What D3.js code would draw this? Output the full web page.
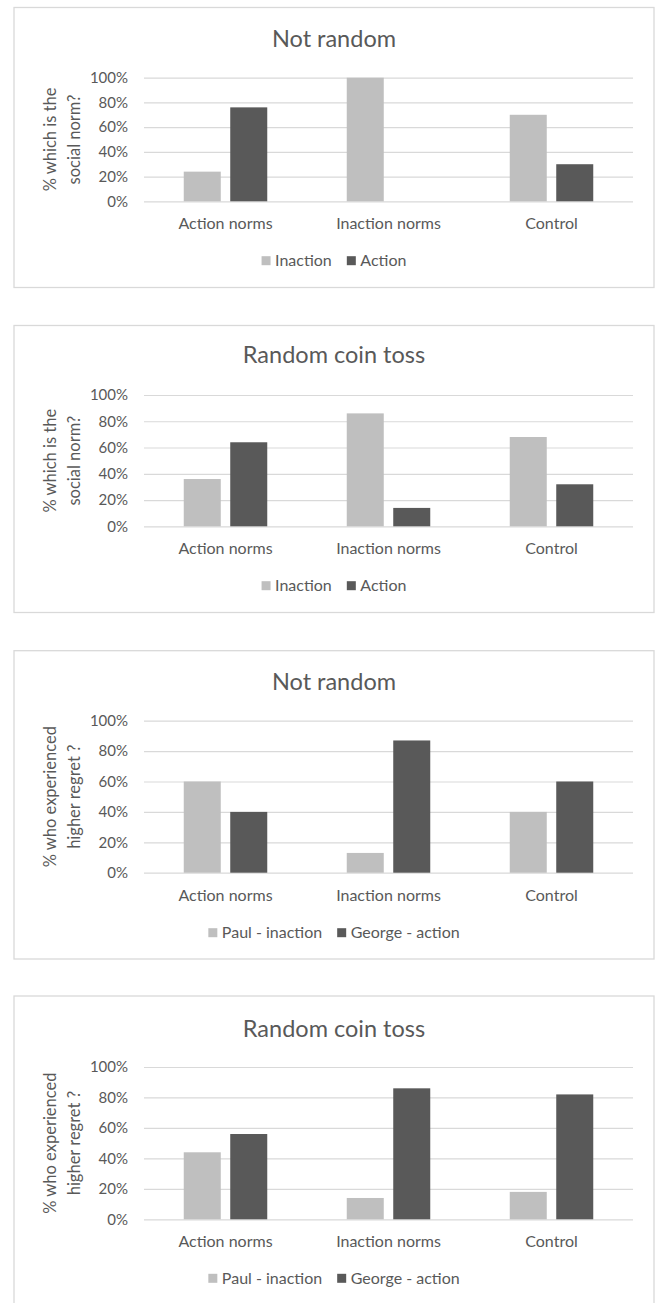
<!DOCTYPE html>
<html>
<head>
<meta charset="utf-8">
<script src="https://cdn.jsdelivr.net/npm/d3@7"></script>
<style>
  body { margin: 0; background: #fff; }
  text { font-family: Lato, "Open Sans", sans-serif; fill: #595959; }
</style>
</head>
<body>
<div id="vis-container"></div>
<script>
// categories and series names
const categories = ["Action norms", "Inaction norms", "Control"];
const normSeries = ["Inaction", "Action"];
const regretSeries = ["Paul - inaction", "George - action"];
const yTicks = [0, 0.2, 0.4, 0.6, 0.8, 1.0];

// values (share of participants)
const normNotRandomInaction = [0.24, 1.00, 0.70];
const normNotRandomAction   = [0.76, 0.00, 0.30];
const normCoinInaction      = [0.36, 0.86, 0.68];
const normCoinAction        = [0.64, 0.14, 0.32];
const regretNotRandomPaul   = [0.60, 0.13, 0.40];
const regretNotRandomGeorge = [0.40, 0.87, 0.60];
const regretCoinPaul        = [0.44, 0.14, 0.18];
const regretCoinGeorge      = [0.56, 0.86, 0.82];

const colors = ["#bfbfbf", "#595959"];

let width = 657;
let height = 1303;
let boxLeft = 14, boxRight = 654;
let plotLeft = 144, plotRight = 633;

// one entry per chart: layout (absolute y positions) + which data to use
let panels = [
  { title: "Not random", yTitle: ["% which is the", "social norm?"], series: normSeries,
    values: [normNotRandomInaction, normNotRandomAction],
    boxTop: 7.5, boxBottom: 287.5, titleY: 47, plotTop: 77.7, plotBottom: 201.3, labelY: 223, legendY: 260.7 },
  { title: "Random coin toss", yTitle: ["% which is the", "social norm?"], series: normSeries,
    values: [normCoinInaction, normCoinAction],
    boxTop: 325.5, boxBottom: 612.5, titleY: 363, plotTop: 395, plotBottom: 526.3, labelY: 548, legendY: 585.7 },
  { title: "Not random", yTitle: ["% who experienced", "higher regret ?"], series: regretSeries,
    values: [regretNotRandomPaul, regretNotRandomGeorge],
    boxTop: 650.7, boxBottom: 959, titleY: 690, plotTop: 720.7, plotBottom: 872.7, labelY: 895, legendY: 932.7 },
  { title: "Random coin toss", yTitle: ["% who experienced", "higher regret ?"], series: regretSeries,
    values: [regretCoinPaul, regretCoinGeorge],
    boxTop: 996, boxBottom: 1304, titleY: 1037, plotTop: 1067, plotBottom: 1219.3, labelY: 1241.7, legendY: 1278.3 }
];

let svg = d3.select("#vis-container").append("svg")
    .attr("width", width).attr("height", height);

let x0 = d3.scaleBand().domain(categories).range([plotLeft, plotRight]);

panels.forEach(p => {
    let g = svg.append("g");

    // outer frame
    g.append("rect")
        .attr("x", boxLeft).attr("y", p.boxTop)
        .attr("width", boxRight - boxLeft).attr("height", p.boxBottom - p.boxTop)
        .attr("fill", "#fff").attr("stroke", "#d9d9d9").attr("stroke-width", 1.3);

    let boxCenter = (boxLeft + boxRight) / 2;

    g.append("text").text(p.title)
        .attr("x", boxCenter).attr("y", p.titleY)
        .attr("text-anchor", "middle").style("font-size", "23.5px");

    let y = d3.scaleLinear().domain([0, 1]).range([p.plotBottom, p.plotTop]);

    // gridlines + tick labels
    let yAxis = g.append("g")
        .attr("transform", "translate(" + plotLeft + ",0)")
        .call(d3.axisLeft(y).tickValues(yTicks).tickFormat(d3.format(".0%"))
            .tickSize(-(plotRight - plotLeft)).tickPadding(16));
    yAxis.select(".domain").remove();
    yAxis.selectAll(".tick line").attr("stroke", "#d9d9d9").attr("stroke-width", 1.2);
    yAxis.selectAll(".tick text").style("font-size", "15px").attr("fill", "#595959")
        .style("font-family", "Lato, sans-serif");

    // y axis title, two lines
    let yMid = (p.plotTop + p.plotBottom) / 2;
    let yt = g.append("text")
        .attr("transform", "translate(50.7," + yMid + ") rotate(-90)")
        .attr("text-anchor", "middle").style("font-size", "16.5px");
    yt.append("tspan").text(p.yTitle[0]).attr("x", 0).attr("dy", "0.35em");
    yt.append("tspan").text(p.yTitle[1]).attr("x", 0).attr("dy", 23.3);

    // bars
    let x1 = d3.scaleBand().domain(d3.range(p.series.length))
        .range([0, x0.bandwidth()]).paddingInner(0.204).paddingOuter(0.855);

    p.values.forEach((vals, si) => {
        g.append("g").selectAll("rect")
            .data(vals).enter().append("rect")
            .attr("x", (d, i) => x0(categories[i]) + x1(si))
            .attr("y", d => y(d))
            .attr("width", x1.bandwidth())
            .attr("height", d => y(0) - y(d))
            .attr("fill", colors[si]);
    });

    // category labels
    g.append("g").selectAll("text")
        .data(categories).enter().append("text")
        .text(d => d)
        .attr("x", d => x0(d) + x0.bandwidth() / 2)
        .attr("y", p.labelY).attr("dy", "0.35em")
        .attr("text-anchor", "middle").style("font-size", "16px");

    // legend, centred in the frame
    let legend = g.append("g");
    let cursor = 0;
    p.series.forEach((s, si) => {
        if (si > 0) cursor += 15;
        legend.append("rect")
            .attr("x", cursor).attr("y", p.legendY - 4.5)
            .attr("width", 9).attr("height", 9).attr("fill", colors[si]);
        cursor += 13.5;
        let t = legend.append("text").text(s)
            .attr("x", cursor).attr("y", p.legendY).attr("dy", "0.35em")
            .style("font-size", "16px");
        cursor += t.node().getComputedTextLength();
    });
    legend.attr("transform", "translate(" + (boxCenter - cursor / 2) + ",0)");
});
</script>
</body>
</html>
